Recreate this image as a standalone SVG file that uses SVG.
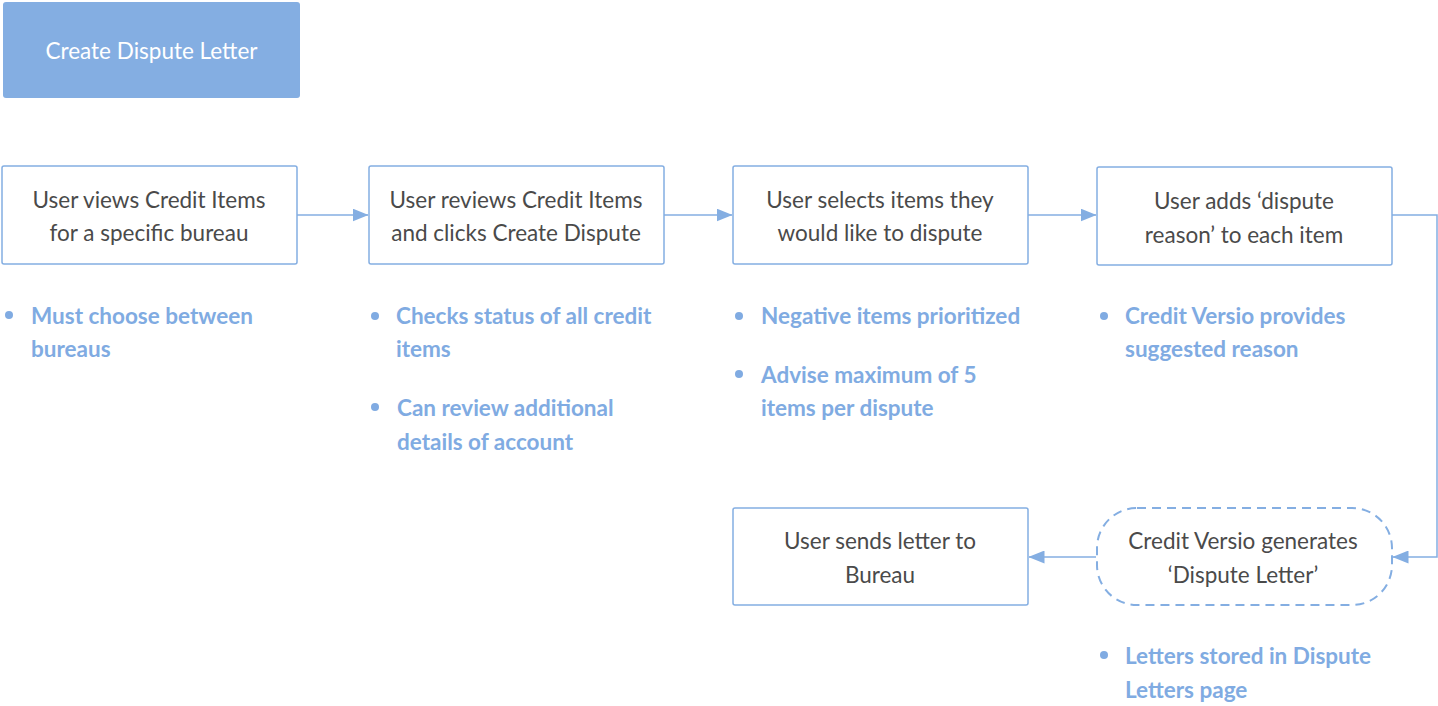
<svg xmlns="http://www.w3.org/2000/svg" width="1438" height="706" viewBox="0 0 1438 706">
<defs>
<style>
.box{fill:#fff;stroke:#84AEE2;stroke-width:1.5}
.dash{fill:#fff;stroke:#84AEE2;stroke-width:2;stroke-dasharray:9 6}
.t{font-family:Lato,"Open Sans","Liberation Sans",sans-serif;font-size:22.5px;fill:#4A4A4A;text-anchor:middle}
.title{font-family:Lato,"Open Sans","Liberation Sans",sans-serif;font-size:22.5px;fill:#fff;text-anchor:middle}
.b{font-family:Lato,"Open Sans","Liberation Sans",sans-serif;font-size:22.5px;font-weight:bold;fill:#80ABE2}
.dot{fill:#80ABE2}
.c{fill:none;stroke:#84AEE2;stroke-width:1.5}
</style>
<marker id="ah" viewBox="0 0 16 13" refX="15.5" refY="6.5" markerWidth="16" markerHeight="13" markerUnits="userSpaceOnUse" orient="auto">
<path d="M0,0 L16,6.5 L0,13 Z" fill="#84AEE2"/>
</marker>
</defs>
<rect width="1438" height="706" fill="#fff"/>
<g id="title">
<rect x="3" y="2" width="297" height="96" rx="3" fill="#84AEE2"/>
<text class="title" x="151.5" y="59">Create Dispute Letter</text>
</g>
<g id="connectors">
<path class="c" d="M297,215 H368" marker-end="url(#ah)"/>
<path class="c" d="M664,215 H732" marker-end="url(#ah)"/>
<path class="c" d="M1028,215 H1096" marker-end="url(#ah)"/>
<path class="c" d="M1392,215 H1437 V557 H1393" marker-end="url(#ah)"/>
<path class="c" d="M1096,557 H1029" marker-end="url(#ah)"/>
</g>
<g id="n1">
<rect class="box" x="2" y="166" width="295" height="98" rx="2"/>
<text class="t" x="149" y="208">User views Credit Items</text>
<text class="t" x="149" y="241">for a specific bureau</text>
</g>
<g id="n2">
<rect class="box" x="369" y="166" width="295" height="98" rx="2"/>
<text class="t" x="516" y="208">User reviews Credit Items</text>
<text class="t" x="516" y="241">and clicks Create Dispute</text>
</g>
<g id="n3">
<rect class="box" x="733" y="166" width="295" height="98" rx="2"/>
<text class="t" x="880" y="208">User selects items they</text>
<text class="t" x="880" y="241">would like to dispute</text>
</g>
<g id="n4">
<rect class="box" x="1097" y="167" width="295" height="98" rx="2"/>
<text class="t" x="1244" y="209">User adds ‘dispute</text>
<text class="t" x="1244" y="243">reason’ to each item</text>
</g>
<g id="n5">
<rect class="box" x="733" y="508" width="295" height="97" rx="2"/>
<text class="t" x="880" y="549">User sends letter to</text>
<text class="t" x="880" y="583">Bureau</text>
</g>
<g id="n6">
<rect class="dash" x="1097" y="508" width="295" height="97" rx="40"/>
<text class="t" x="1243" y="549">Credit Versio generates</text>
<text class="t" x="1243" y="583">‘Dispute Letter’</text>
</g>
<g id="notes1">
<circle class="dot" cx="9" cy="315" r="4"/>
<text class="b" x="31" y="324">Must choose between</text>
<text class="b" x="31" y="357">bureaus</text>
</g>
<g id="notes2">
<circle class="dot" cx="375" cy="316" r="4"/>
<text class="b" x="396" y="324">Checks status of all credit</text>
<text class="b" x="396" y="357">items</text>
<circle class="dot" cx="375" cy="407" r="4"/>
<text class="b" x="397" y="416">Can review additional</text>
<text class="b" x="397" y="450">details of account</text>
</g>
<g id="notes3">
<circle class="dot" cx="739" cy="316" r="4"/>
<text class="b" x="761" y="324">Negative items prioritized</text>
<circle class="dot" cx="739" cy="374" r="4"/>
<text class="b" x="761" y="383">Advise maximum of 5</text>
<text class="b" x="761" y="416">items per dispute</text>
</g>
<g id="notes4">
<circle class="dot" cx="1104" cy="316" r="4"/>
<text class="b" x="1125" y="324">Credit Versio provides</text>
<text class="b" x="1125" y="357">suggested reason</text>
</g>
<g id="notes6">
<circle class="dot" cx="1104" cy="655" r="4"/>
<text class="b" x="1125" y="664">Letters stored in Dispute</text>
<text class="b" x="1125" y="698">Letters page</text>
</g>
</svg>
